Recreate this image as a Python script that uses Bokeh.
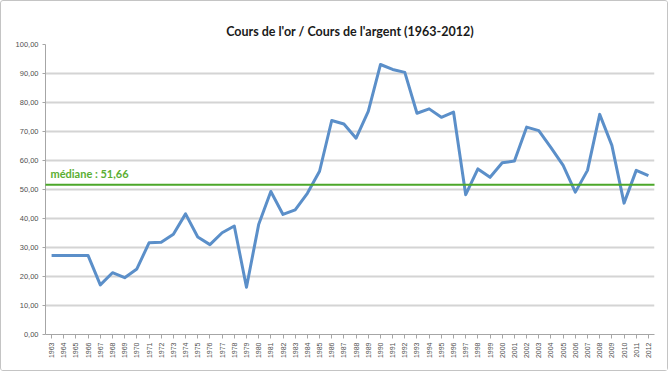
from bokeh.plotting import figure
from bokeh.models import FactorRange, Range1d, FixedTicker, CustomJSTickFormatter, Label, PolyAnnotation
from bokeh.embed import file_html
from bokeh.resources import INLINE
import math

years = [str(y) for y in range(1963, 2013)]
ratio = [27.2, 27.2, 27.2, 27.2, 17.1, 21.3, 19.6, 22.6, 31.6, 31.8,
         34.6, 41.6, 33.6, 31.0, 35.1, 37.4, 16.3, 37.9, 49.3, 41.4,
         43.0, 48.7, 56.3, 73.8, 72.6, 67.7, 76.9, 93.1, 91.4, 90.4,
         76.3, 77.8, 74.9, 76.7, 48.2, 57.1, 54.2, 59.2, 59.8, 71.5,
         70.3, 64.4, 58.3, 49.1, 56.6, 75.9, 65.2, 45.3, 56.6, 54.8]
median_value = 51.66
median_text = "médiane : 51,66"
y_ticks = [0, 10, 20, 30, 40, 50, 60, 70, 80, 90, 100]
title_text = "Cours de l'or / Cours de l'argent (1963-2012)"

p = figure(width=668, height=371, x_range=FactorRange(*years), y_range=Range1d(0, 100),
           output_backend="svg", toolbar_location=None,
           min_border_left=44, min_border_right=15, min_border_top=43, min_border_bottom=38,
           styles={"border": "1px solid #c4c4c4", "border-radius": "3px"})
p.background_fill_color = "white"
p.border_fill_color = "white"
p.outline_line_color = None

p.title.text = title_text
p.title.align = "center"
p.title.vertical_align = "middle"
p.title.text_font = "Lato"
p.title.text_font_size = "12.5px"
p.title.text_font_style = "bold"
p.title.text_color = "#1a1a1a"

p.xgrid.grid_line_color = None
p.ygrid.grid_line_color = "#d4d4d4"
p.ygrid.grid_line_width = 2

p.yaxis.ticker = FixedTicker(ticks=y_ticks)
p.yaxis.formatter = CustomJSTickFormatter(code="return tick.toFixed(2).replace('.', ',');")
p.yaxis.major_label_text_font = "Liberation Sans"
p.yaxis.major_label_text_font_size = "7.5px"
p.yaxis.major_label_text_color = "#505050"
p.yaxis.axis_line_color = "#a6a6a6"
p.yaxis.major_tick_line_color = "#a6a6a6"
p.yaxis.major_tick_out = 3
p.yaxis.major_tick_in = 0
p.yaxis.minor_tick_line_color = None
p.yaxis.major_label_standoff = 4

p.xaxis.major_label_orientation = math.pi / 2
p.xaxis.major_label_text_font = "Liberation Sans"
p.xaxis.major_label_text_font_size = "7px"
p.xaxis.major_label_text_color = "#505050"
p.xaxis.axis_line_color = "#a6a6a6"
p.xaxis.major_tick_line_color = "#a6a6a6"
p.xaxis.major_tick_out = 4
p.xaxis.major_tick_in = 0
p.xaxis.major_label_standoff = 4

p.line(x=years, y=ratio, line_color="#5B8FC9", line_width=3, line_join="round")

poly = PolyAnnotation(xs=[-33, 618, 618, -33],
                      ys=[median_value - 0.35, median_value - 0.35, median_value + 0.35, median_value + 0.35],
                      xs_units="screen", ys_units="data",
                      fill_color="#4CA72A", fill_alpha=1.0, line_color=None)
p.add_layout(poly)

lab = Label(x=5, y=median_value, x_units="screen", y_units="data", y_offset=5,
            text=median_text, text_font="Lato", text_font_size="11px", text_font_style="bold",
            text_color="#5AAE32", text_baseline="bottom")
p.add_layout(lab)

open("out.html", "w").write(file_html(p, INLINE))
